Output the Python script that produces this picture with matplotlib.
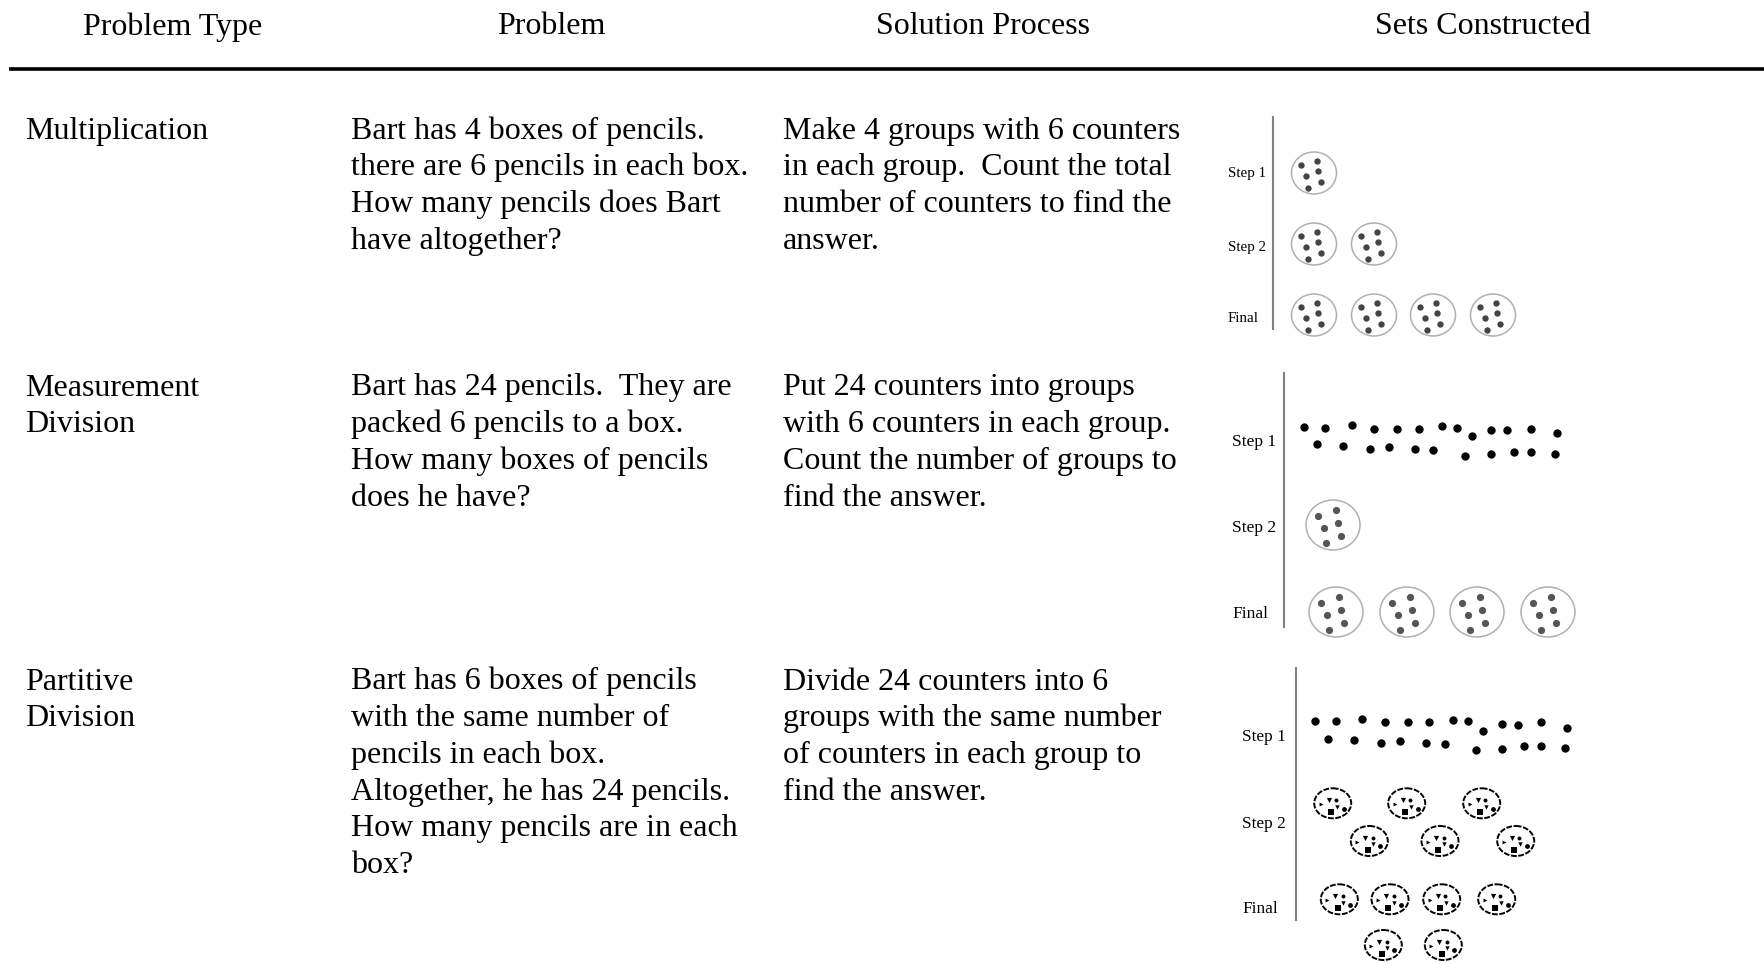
import matplotlib
matplotlib.use('Agg')
import matplotlib.pyplot as plt
from matplotlib.patches import Ellipse

# ---------------- data ----------------
headers = ["Problem Type", "Problem", "Solution Process", "Sets Constructed"]
problem_types = [["Multiplication"], ["Measurement", "Division"], ["Partitive", "Division"]]
problems = [
    ["Bart has 4 boxes of pencils.", "there are 6 pencils in each box.",
     "How many pencils does Bart", "have altogether?"],
    ["Bart has 24 pencils.  They are", "packed 6 pencils to a box.",
     "How many boxes of pencils", "does he have?"],
    ["Bart has 6 boxes of pencils", "with the same number of",
     "pencils in each box.", "Altogether, he has 24 pencils.",
     "How many pencils are in each", "box?"],
]
solutions = [
    ["Make 4 groups with 6 counters", "in each group.  Count the total",
     "number of counters to find the", "answer."],
    ["Put 24 counters into groups", "with 6 counters in each group.",
     "Count the number of groups to", "find the answer."],
    ["Divide 24 counters into 6", "groups with the same number",
     "of counters in each group to", "find the answer."],
]
step_labels = ["Step 1", "Step 2", "Final"]

# multiplication: groups of 6 at each step
mult_groups_per_step = [1, 2, 4]
# measurement division: 24 loose counters, then groups of 6
meas_groups_per_step = [0, 1, 4]
# partitive division: 24 loose counters, then 6 groups, final 6 groups
part_groups_per_step = [0, 6, 6]

# ---------------- layout ----------------
W, H = 1764, 964
fig = plt.figure(figsize=(W / 100, H / 100), dpi=100)
ax = fig.add_axes([0, 0, 1, 1])
ax.set_xlim(0, W)
ax.set_ylim(H, 0)
ax.set_aspect('equal')
ax.axis('off')

FONT = 'Liberation Serif'
FS = 23.0
LS = 36.7

header_x = [173, 551, 983, 1483]
for hx, h in zip(header_x, headers):
    ax.text(hx, 34.5, h, family=FONT, fontsize=FS, ha='center', va='baseline')
ax.plot([9, 1764], [69, 69], color='black', lw=2.6, solid_capstyle='butt')

col_x = [25, 351, 783]
row_base = [138.5, 395.5, 689.5]
for r in range(3):
    for ci, col in enumerate([problem_types[r], problems[r], solutions[r]]):
        for li, line in enumerate(col):
            ax.text(col_x[ci], row_base[r] + li * LS, line, family=FONT,
                    fontsize=FS, ha='left', va='baseline')

def panel_axis(x, y0, y1, lab_x, lab_ys, fs):
    ax.plot([x, x], [y0, y1], color='#808080', lw=1.5)
    for lab, ly in zip(step_labels, lab_ys):
        ax.text(lab_x, ly, lab, family=FONT, fontsize=fs, ha='left', va='baseline')

# dot offsets inside a group circle (relative to circle centre, in px)
grp_off = [(-12.7, -7.7), (2.7, -12.3), (-7.7, 2.7), (4, -1.7), (-5.7, 15), (7, 9.3)]

def group(cx, cy, rx, ry, scale, dot_s, dot_c):
    ax.add_patch(Ellipse((cx, cy), 2 * rx, 2 * ry, fill=False, ec='#b0b0b0', lw=1.1))
    ax.scatter([cx + dx * scale for dx, dy in grp_off],
               [cy + dy * scale for dx, dy in grp_off], s=dot_s, c=dot_c, lw=0)

# ---- panel 1: multiplication
panel_axis(1273, 117, 329, 1228, [177, 251, 322], 10.8)
p1_rows_y = [173, 244, 315]
p1_cols_x = [1314, 1374, 1433, 1493]
for si, n in enumerate(mult_groups_per_step):
    for gi in range(n):
        group(p1_cols_x[gi], p1_rows_y[si], 22.5, 21, 1.0, 21, '#444444')

# ---- panel 2: measurement division
panel_axis(1284, 373, 627, 1232, [446, 532, 618], 12.5)
loose_top_x = [1304.3, 1325, 1351.7, 1374, 1397.3, 1419, 1441.7, 1457.3, 1472.3, 1491, 1507.3, 1531, 1556.7]
loose_top_y = [426.7, 427.7, 425.3, 428.7, 428.7, 428.7, 426.3, 427.7, 436, 429.7, 430.3, 428.7, 433.3]
loose_bot_x = [1317.3, 1343.3, 1370, 1389, 1414.7, 1433.3, 1465, 1491, 1514, 1531, 1555]
loose_bot_y = [444.3, 446, 449.3, 447.3, 449.3, 450.3, 456, 454.3, 451.7, 451.7, 453.7]
ax.scatter(loose_top_x + loose_bot_x, loose_top_y + loose_bot_y, s=36, c='black', lw=0)
p2_step2 = [(1333, 525)]
p2_final = [(1336, 612), (1407, 612), (1477, 612), (1548, 612)]
for (cx, cy) in p2_step2[:meas_groups_per_step[1]] + p2_final[:meas_groups_per_step[2]]:
    group(cx, cy, 27, 25, 1.2, 27, '#555555')

# ---- panel 3: partitive division
panel_axis(1296, 668, 920, 1242, [741, 828, 913], 12.4)
ax.scatter([1315.3, 1336, 1362.3, 1385, 1408, 1429.3, 1452.7, 1468, 1482.7, 1502, 1517.7, 1541.3, 1567,
            1327.7, 1354.3, 1380.7, 1400, 1425.7, 1445, 1475.7, 1502, 1524.3, 1541.3, 1565.3],
           [720.7, 721.3, 719.3, 722.3, 722.3, 722.3, 720, 721.3, 730.7, 724, 724.7, 722.3, 727.7,
            738.7, 740, 742.7, 740.7, 742.7, 744, 750.3, 748.7, 745.7, 745.7, 748],
           s=36, c='black', lw=0)

small_marks = [((-12, 1), '>', 8), ((-4, -3.5), 'v', 14), ((3.5, -3.5), 'o', 8),
               ((4, 3.3), 'v', 10), ((-1.7, 8.7), 's', 14), ((11, 5.3), 'o', 12)]

def small_group(cx, cy):
    ax.add_patch(Ellipse((cx, cy), 37, 30, fill=False, ec='black', lw=1.4, ls=(0, (3, 0.8))))
    for (ox, oy), m, s in small_marks:
        ax.scatter([cx + ox], [cy + oy], marker=m, s=s, c='black', lw=0)

p3_step2 = [(1332.7, 803.3), (1406.7, 803.3), (1481.7, 803.3),
            (1369.3, 841), (1440, 841), (1515.7, 841)]
p3_final = [(1339.3, 899.3), (1390, 899.3), (1441.7, 899.3), (1496.7, 899.3),
            (1383.3, 945), (1443.3, 945)]
for (cx, cy) in p3_step2[:part_groups_per_step[1]] + p3_final[:part_groups_per_step[2]]:
    small_group(cx, cy)

fig.savefig('out.png', dpi=100, facecolor='white')
